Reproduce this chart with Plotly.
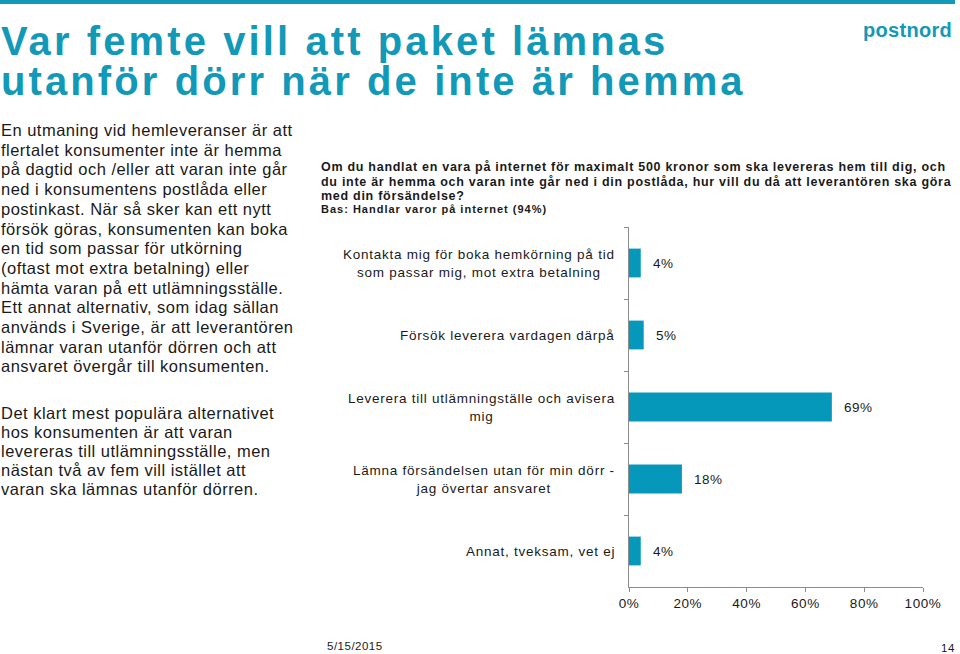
import plotly.graph_objects as go

categories = [
    "Kontakta mig för boka hemkörning på tid<br>som passar mig, mot extra betalning",
    "Försök leverera vardagen därpå",
    "Leverera till utlämningställe och avisera<br>mig",
    "Lämna försändelsen utan för min dörr -<br>jag övertar ansvaret",
    "Annat, tveksam, vet ej",
]
values = [0.04, 0.05, 0.69, 0.18, 0.04]
value_labels = ["4%", "5%", "69%", "18%", "4%"]
x_ticks = [0, 0.2, 0.4, 0.6, 0.8, 1.0]
x_tick_labels = ["0%", "20%", "40%", "60%", "80%", "100%"]

title_lines = ["Var femte vill att paket lämnas", "utanför dörr när de inte är hemma"]
left_para1 = [
    "En utmaning vid hemleveranser är att",
    "flertalet konsumenter inte är hemma",
    "på dagtid och /eller att varan inte går",
    "ned i konsumentens postlåda eller",
    "postinkast. När så sker kan ett nytt",
    "försök göras, konsumenten kan boka",
    "en tid som passar för utkörning",
    "(oftast mot extra betalning) eller",
    "hämta varan på ett utlämningsställe.",
    "Ett annat alternativ, som idag sällan",
    "används i Sverige, är att leverantören",
    "lämnar varan utanför dörren och att",
    "ansvaret övergår till konsumenten.",
]
left_para2 = [
    "Det klart mest populära alternativet",
    "hos konsumenten är att varan",
    "levereras till utlämningsställe, men",
    "nästan två av fem vill istället att",
    "varan ska lämnas utanför dörren.",
]
question_lines = [
    "Om du handlat en vara på internet för maximalt 500 kronor som ska levereras hem till dig, och",
    "du inte är hemma och varan inte går ned i din postlåda, hur vill du då att leverantören ska göra",
    "med din försändelse?",
]
base_line = "Bas: Handlar varor på internet (94%)"

W, H = 960, 654
TEAL = "#1399b8"
BAR = "#0598bb"
FONT = "Liberation Sans, Arial, sans-serif"
INK = "#1a1a1a"


def py(p):
    return 1 - p / H


def sp(t, ls, bold=False):
    s = f'<span style="letter-spacing:{ls}px">{t}</span>'
    return f"<b>{s}</b>" if bold else s


fig = go.Figure()
fig.add_trace(go.Bar(
    x=values, y=categories, orientation="h",
    marker=dict(color=BAR, line=dict(width=0)),
    width=0.4, hoverinfo="skip",
))

ann = []
for c in categories:
    lines = c.split("<br>")
    txt = "<br>".join(sp(l, 0.75) for l in lines)
    ann.append(dict(x=617 / W, xref="paper", y=c, yref="y", text=txt,
                    xanchor="right", yanchor="middle", align="center",
                    showarrow=False, font=dict(family=FONT, size=13.5, color=INK)))
for c, v, t in zip(categories, values, value_labels):
    ann.append(dict(x=v, xref="x", y=c, yref="y", text=sp(t, 0.5), xanchor="left",
                    yanchor="middle", xshift=10, showarrow=False,
                    font=dict(family=FONT, size=13.5, color=INK)))
for i, t in enumerate(title_lines):
    ann.append(dict(x=0, xref="paper", y=py(41 + i * 40), yref="paper", text=sp(t, 3.1, True),
                    xanchor="left", yanchor="middle", showarrow=False, borderpad=0,
                    font=dict(family=FONT, size=40, color=TEAL)))
ann.append(dict(x=954 / W, xref="paper", y=py(30), yref="paper", text=sp("postnord", 0.3, True),
                xanchor="right", yanchor="middle", showarrow=False,
                font=dict(family=FONT, size=20, color=TEAL)))
for i, t in enumerate(left_para1):
    ann.append(dict(x=0, xref="paper", y=py(130 + i * 19.7), yref="paper", text=sp(t, 0.48),
                    xanchor="left", yanchor="middle", showarrow=False, borderpad=0,
                    font=dict(family=FONT, size=16.5, color=INK)))
for i, t in enumerate(left_para2):
    ann.append(dict(x=0, xref="paper", y=py(413 + i * 19), yref="paper", text=sp(t, 0.48),
                    xanchor="left", yanchor="middle", showarrow=False, borderpad=0,
                    font=dict(family=FONT, size=16.5, color=INK)))
for i, t in enumerate(question_lines):
    ann.append(dict(x=319 / W, xref="paper", y=py(167 + i * 14.5), yref="paper", text=sp(t, 0.72, True),
                    xanchor="left", yanchor="middle", showarrow=False,
                    font=dict(family=FONT, size=12.5, color=INK)))
ann.append(dict(x=319 / W, xref="paper", y=py(209), yref="paper", text=sp(base_line, 1.0, True),
                xanchor="left", yanchor="middle", showarrow=False,
                font=dict(family=FONT, size=11, color=INK)))
ann.append(dict(x=355 / W, xref="paper", y=py(646), yref="paper", text=sp("5/15/2015", 0.5),
                xanchor="center", yanchor="middle", showarrow=False,
                font=dict(family=FONT, size=11.5, color=INK)))
ann.append(dict(x=957 / W, xref="paper", y=py(648), yref="paper", text=sp("14", 0.5),
                xanchor="right", yanchor="middle", showarrow=False,
                font=dict(family=FONT, size=11.5, color=INK)))

fig.update_layout(
    width=W, height=H, margin=dict(l=0, r=0, t=0, b=0, pad=0, autoexpand=False),
    paper_bgcolor="white", plot_bgcolor="white", showlegend=False,
    annotations=ann,
    shapes=[dict(type="rect", xref="paper", yref="paper", x0=0, x1=955 / W,
                 y0=py(4), y1=1, fillcolor=TEAL, line=dict(width=0))],
    xaxis=dict(domain=[629 / W, 923 / W], range=[0, 1], tickvals=x_ticks,
               ticktext=[sp(t, 0.6) for t in x_tick_labels], automargin=False,
               showgrid=False, zeroline=False, showline=True, linecolor="#8c8c8c", linewidth=1,
               ticks="outside", ticklen=4, tickcolor="#8c8c8c",
               tickfont=dict(family=FONT, size=13.5, color=INK)),
    yaxis=dict(domain=[1 - 587 / H, 1 - 227 / H], categoryorder="array", categoryarray=categories,
               range=[4.5, -0.5], showticklabels=False, showgrid=False, zeroline=False,
               showline=True, linecolor="#8c8c8c", linewidth=1, automargin=False,
               ticks="outside", ticklen=4, tickcolor="#8c8c8c", tickson="boundaries"),
)

fig.write_html("out.html")
